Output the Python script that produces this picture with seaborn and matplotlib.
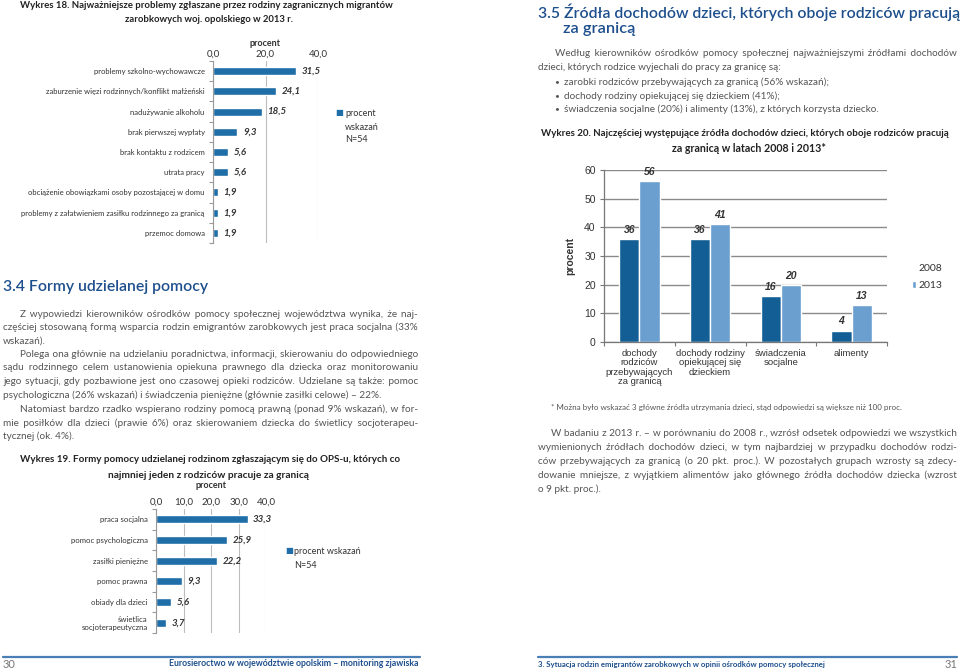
import matplotlib
matplotlib.use('Agg')
import matplotlib.pyplot as plt
from matplotlib.lines import Line2D
import seaborn as sns
import pandas as pd
import numpy as np

# ---------------- data ----------------
problem_labels = [
    "problemy szkolno-wychowawcze",
    "zaburzenie więzi rodzinnych/konflikt małżeński",
    "nadużywanie alkoholu",
    "brak pierwszej wypłaty",
    "brak kontaktu z rodzicem",
    "utrata pracy",
    "obciążenie obowiązkami osoby pozostającej w domu",
    "problemy z załatwieniem zasiłku rodzinnego za granicą",
    "przemoc domowa",
]
problem_values = [31.5, 24.1, 18.5, 9.3, 5.6, 5.6, 1.9, 1.9, 1.9]
problem_ticks = [0, 20, 40]

help_labels = [
    "praca socjalna",
    "pomoc psychologiczna",
    "zasiłki pieniężne",
    "pomoc prawna",
    "obiady dla dzieci",
    "świetlica\nsocjoterapeutyczna",
]
help_values = [33.3, 25.9, 22.2, 9.3, 5.6, 3.7]
help_ticks = [0, 10, 20, 30, 40]

income_labels = [
    "dochody\nrodziców\nprzebywających\nza granicą",
    "dochody rodziny\nopiekującej się\ndzieckiem",
    "świadczenia\nsocjalne",
    "alimenty",
]
income_years = ["2008", "2013"]
income_2008 = [36, 36, 16, 4]
income_2013 = [56, 41, 20, 13]
income_ticks = [0, 10, 20, 30, 40, 50, 60]

# ---------------- style ----------------
W, H = 960, 670
BAR = "#1f6ea8"
DARK = "#135e95"
LIGHT = "#6a9fd0"
HEAD = "#1d4f8d"
BODY = "#555555"
LAB = "#333333"

sns.set_theme(style="white")
plt.rcParams['font.family'] = ['Lato', 'DejaVu Sans']

fig = plt.figure(figsize=(9.6, 6.7), dpi=100)
fig.patch.set_facecolor('white')
renderer = fig.canvas.get_renderer()


def rect(x0, y0, x1, y1):
    return [x0 / W, 1 - y1 / H, (x1 - x0) / W, (y1 - y0) / H]


def T(x, y, s, **kw):
    kw.setdefault('va', 'center')
    return fig.text(x / W, 1 - y / H, s, **kw)


def width_of(s, **kw):
    t = T(0, 0, s, ha='left', **kw)
    w = t.get_window_extent(renderer).width
    t.remove()
    return w


def fit(x0, x1, y, s, ha='left', **kw):
    t = T(x0, y, s, ha='left', **kw)
    w = t.get_window_extent(renderer).width
    t.set_fontsize(t.get_fontsize() * (x1 - x0) / w)
    if ha == 'center':
        t.set_x((x0 + x1) / 2 / W); t.set_ha('center')
    elif ha == 'right':
        t.set_x(x1 / W); t.set_ha('right')
    return t


def block_size(paras, x0, x1, indent, base=8.0, **kw):
    sizes = []
    for lines in paras:
        for i, ln in enumerate(lines[:-1]):
            avail = x1 - x0 - (indent if i == 0 else 0) - 1
            sizes.append(base * avail / width_of(ln, fontsize=base, **kw))
    return min(sizes)


HAIR = "\u200a"


def justified_string(line, width, **kw):
    words = line.split(' ')
    if len(words) < 2:
        return line
    natural = width_of(line, **kw)
    sp = width_of("a a", **kw) - width_of("aa", **kw)
    hs = width_of("a" + HAIR * 4 + "a", **kw) - width_of("aa", **kw)
    hs = hs / 4 if hs > 0 else sp / 4
    extra = width - natural
    per = extra / (len(words) - 1)
    out = words[0]
    added = 0.0
    for i, w in enumerate(words[1:]):
        need = per * (i + 1) - added
        k = max(int(need // sp), 0)
        rem = need - k * sp
        m = max(int(round(rem / hs)), 0)
        added += k * sp + m * hs
        out += ' ' + ' ' * k + HAIR * m + w
    return out


def paragraph(lines, x0, x1, ys, indent=17, **kw):
    for i, (ln, y) in enumerate(zip(lines, ys)):
        xs = x0 + (indent if i == 0 else 0)
        s = ln if i == len(lines) - 1 else justified_string(ln, x1 - xs, **kw)
        T(xs, y, s, ha='left', **kw)


def hline(x0, x1, y, color="#4a7fb5", lw=1.6):
    fig.add_artist(Line2D([x0 / W, x1 / W], [1 - y / H, 1 - y / H],
                          transform=fig.transFigure, color=color, lw=lw))


def fmt(v):
    return f"{v:.1f}".replace('.', ',')


def hbar(ax, labels, values, ticks, fs_lab):
    sns.barplot(x=values, y=labels, orient='h', color=BAR, saturation=1,
                width=0.4, ax=ax)
    ax.set_xlim(ticks[0], ticks[-1])
    ax.set_ylim(len(labels) - 0.5, -0.5)
    ax.xaxis.tick_top()
    ax.set_xticks(ticks)
    ax.set_xticklabels([fmt(t) for t in ticks], fontsize=7, color=LAB)
    ax.tick_params(axis='x', length=0, pad=2)
    ax.tick_params(axis='y', which='major', length=0, pad=6, labelsize=fs_lab,
                   labelcolor=LAB)
    ax.set_yticks(np.arange(-0.5, len(labels), 1), minor=True)
    ax.tick_params(axis='y', which='minor', left=True, length=3, color='#999999', width=0.8)
    ax.grid(axis='x', color='#bdbdbd', lw=0.8)
    ax.set_axisbelow(True)
    for s in ['top', 'right', 'bottom']:
        ax.spines[s].set_visible(False)
    ax.spines['left'].set_color('#999999')
    ax.spines['left'].set_linewidth(0.8)
    ax.set_xlabel(''); ax.set_ylabel('')
    ax.bar_label(ax.containers[0], labels=[fmt(v) for v in values], padding=4,
                 fontsize=7, fontweight='bold', fontstyle='italic', color=LAB)


# ================= LEFT PAGE =================
fit(20, 393, 6, "Wykres 18. Najważniejsze problemy zgłaszane przez rodziny zagranicznych migrantów",
    fontweight='bold', color='#222222', fontsize=7)
fit(125, 296, 19, "zarobkowych woj. opolskiego w 2013 r.", fontweight='bold', color='#222222', fontsize=7)

ax1 = fig.add_axes(rect(213, 61, 318, 243))
hbar(ax1, problem_labels, problem_values, problem_ticks, 5.5)
T(265, 43, "procent", ha='center', fontsize=6.5, fontweight='bold', color=LAB)
T(339, 113, "■", ha='center', fontsize=6, color=BAR)
T(345, 113, "procent", ha='left', fontsize=6.5, color=LAB)
T(345, 127, "wskazań", ha='left', fontsize=6.5, color=LAB)
T(345, 140, "N=54", ha='left', fontsize=6.5, color=LAB)

fit(3, 207, 287, "3.4 Formy udzielanej pomocy", color=HEAD, fontweight='semibold', fontsize=11)

left_p = [
    ["Z wypowiedzi kierowników ośrodków pomocy społecznej województwa wynika, że naj-",
     "częściej stosowaną formą wsparcia rodzin emigrantów zarobkowych jest praca socjalna (33%",
     "wskazań)."],
    ["Polega ona głównie na udzielaniu poradnictwa, informacji, skierowaniu do odpowiedniego",
     "sądu rodzinnego celem ustanowienia opiekuna prawnego dla dziecka oraz monitorowaniu",
     "jego sytuacji, gdy pozbawione jest ono czasowej opieki rodziców. Udzielane są także: pomoc",
     "psychologiczna (26% wskazań) i świadczenia pieniężne (głównie zasiłki celowe) – 22%."],
    ["Natomiast bardzo rzadko wspierano rodziny pomocą prawną (ponad 9% wskazań), w for-",
     "mie posiłków dla dzieci (prawie 6%) oraz skierowaniem dziecka do świetlicy socjoterapeu-",
     "tycznej (ok. 4%)."],
]
fs_left = block_size(left_p, 3, 418, 17, color=BODY)
ys_left = [[314, 327.5, 341], [354.5, 368, 382, 395.5], [409, 423, 436.5]]
for p, ys in zip(left_p, ys_left):
    paragraph(p, 3, 418, ys, fontsize=fs_left, color=BODY)

fit(20, 403, 460, "Wykres 19. Formy pomocy udzielanej rodzinom zgłaszającym się do OPS-u, których co",
    fontweight='bold', color='#222222', fontsize=7)
fit(108, 311, 476, "najmniej jeden z rodziców pracuje za granicą", fontweight='bold', color='#222222', fontsize=7)

ax2 = fig.add_axes(rect(156, 509, 266, 633))
hbar(ax2, help_labels, help_values, help_ticks, 5.6)
T(211, 486, "procent", ha='center', fontsize=6.5, fontweight='bold', color=LAB)
T(289, 551, "■", ha='center', fontsize=6, color=BAR)
T(294, 551, "procent wskazań", ha='left', fontsize=6.5, color=LAB)
T(294, 565, "N=54", ha='left', fontsize=6.5, color=LAB)

hline(3, 420, 657)
T(3, 664, "30", ha='left', fontsize=8, color='#777777')
fit(169, 420, 664, "Eurosieroctwo w województwie opolskim – monitoring zjawiska",
    fontweight='bold', color=HEAD, fontsize=7.5)

# ================= RIGHT PAGE =================
fit(538, 957, 12, "3.5 Źródła dochodów dzieci, których oboje rodziców pracują",
    color=HEAD, fontweight='semibold', fontsize=11)
fit(563, 635, 29, "za granicą", color=HEAD, fontweight='semibold', fontsize=11)

right_p1 = ["Według kierowników ośrodków pomocy społecznej najważniejszymi źródłami dochodów",
            "dzieci, których rodzice wyjechali do pracy za granicę są:"]
right_p2 = ["W badaniu z 2013 r. – w porównaniu do 2008 r., wzrósł odsetek odpowiedzi we wszystkich",
            "wymienionych źródłach dochodów dzieci, w tym najbardziej w przypadku dochodów rodzi-",
            "ców przebywających za granicą (o 20 pkt. proc.). W pozostałych grupach wzrosty są zdecy-",
            "dowanie mniejsze, z wyjątkiem alimentów jako głównego źródła dochodów dziecka (wzrost",
            "o 9 pkt. proc.)."]
fs_right = block_size([right_p1, right_p2], 538, 957, 17, color=BODY)

paragraph(right_p1, 538, 957, [54, 68], indent=17, fontsize=fs_right, color=BODY)
bullets = ["zarobki rodziców przebywających za granicą (56% wskazań);",
           "dochody rodziny opiekującej się dzieckiem (41%);",
           "świadczenia socjalne (20%) i alimenty (13%), z których korzysta dziecko."]
for b, y in zip(bullets, [82, 96, 109]):
    T(554, y, "•", ha='left', fontsize=6, color=BODY)
    T(564, y, b, ha='left', fontsize=fs_right, color=BODY)

fit(541, 953, 133, "Wykres 20. Najczęściej występujące źródła dochodów dzieci, których oboje rodziców pracują",
    fontweight='bold', color='#222222', fontsize=7)
fit(672, 826, 148, "za granicą w latach 2008 i 2013*", fontweight='bold', color='#222222', fontsize=7)

df = pd.DataFrame({
    'kat': income_labels * 2,
    'rok': [income_years[0]] * len(income_labels) + [income_years[1]] * len(income_labels),
    'val': income_2008 + income_2013,
})
ax3 = fig.add_axes(rect(604, 170, 887, 342))
sns.barplot(data=df, x='kat', y='val', hue='rok', palette=[DARK, LIGHT], saturation=1,
            width=0.57, ax=ax3, legend=True)
ax3.set_ylim(0, 60)
ax3.set_xlim(-0.5, len(income_labels) - 0.5)
ax3.set_yticks(income_ticks)
ax3.set_yticklabels([str(t) for t in income_ticks], fontsize=7.5, color=LAB,
                    family=['Liberation Sans', 'DejaVu Sans'])
ax3.set_xticks(range(len(income_labels)))
ax3.set_xticklabels(income_labels, fontsize=6.8, color=LAB, linespacing=1.05,
                    family=['Liberation Sans', 'DejaVu Sans'], va='top')
ax3.tick_params(axis='x', which='major', length=0, pad=5)
ax3.set_xticks(np.arange(-0.5, len(income_labels), 1), minor=True)
ax3.tick_params(axis='x', which='minor', bottom=True, length=3, color='#777777', width=0.8)
ax3.tick_params(axis='y', left=True, length=3, color='#777777', width=0.8, pad=3)
ax3.grid(axis='y', color='#8a8a8a', lw=1.0)
ax3.set_axisbelow(True)
for s in ['top', 'right']:
    ax3.spines[s].set_visible(False)
for s in ['left', 'bottom']:
    ax3.spines[s].set_color('#777777'); ax3.spines[s].set_linewidth(0.9)
ax3.set_xlabel('')
ax3.set_ylabel('procent', fontsize=7.5, fontweight='bold', color=LAB, labelpad=6,
               family=['Liberation Sans', 'DejaVu Sans'])
for cont in ax3.containers:
    ax3.bar_label(cont, labels=[f"{int(v)}" for v in cont.datavalues], padding=3,
                  fontsize=7.5, fontweight='bold', fontstyle='italic', color=LAB,
                  family=['Liberation Sans', 'DejaVu Sans'])
handles, labs = ax3.get_legend_handles_labels()
leg = ax3.legend(handles, labs, loc='center left', bbox_to_anchor=(903 / W, 1 - 277 / H),
                 bbox_transform=fig.transFigure, frameon=False, handlelength=0.35, handleheight=0.7,
                 handletextpad=0.2, labelspacing=0.75, prop={'size': 7.5})
for t in leg.get_texts():
    t.set_color(LAB)
leg.legend_handles[0].set_alpha(0)

T(551, 407, "* Można było wskazać 3 główne źródła utrzymania dzieci, stąd odpowiedzi są większe niż 100 proc.",
  ha='left', fontsize=5.8, color=BODY)

paragraph(right_p2, 538, 957, [433, 447, 461, 475.5, 489], indent=13, fontsize=fs_right, color=BODY)

hline(538, 957, 657)
fit(538, 823, 664, "3. Sytuacja rodzin emigrantów zarobkowych w opinii ośrodków pomocy społecznej",
    fontweight='bold', color=HEAD, fontsize=7.5)
T(957, 664, "31", ha='right', fontsize=8, color='#777777')

fig.savefig('out.png', dpi=100, facecolor='white')
